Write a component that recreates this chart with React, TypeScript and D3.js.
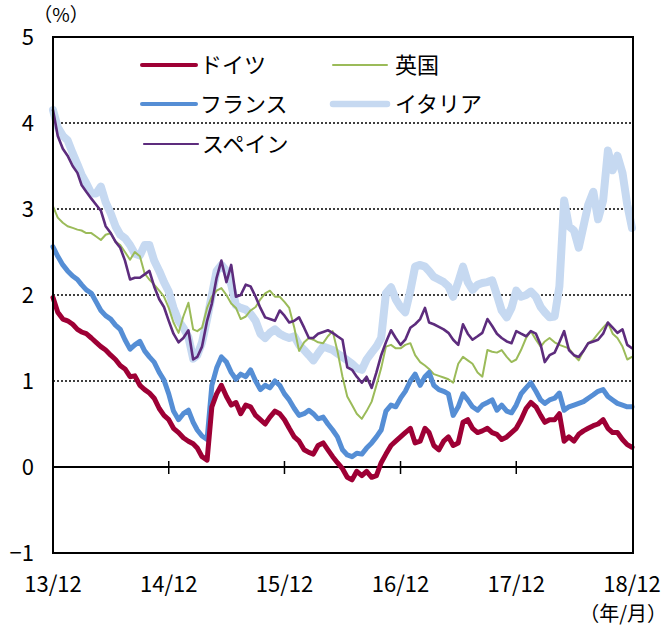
import React from "react";
import * as d3 from "d3";

// Half-month observations from 2013/12 to 2018/12 (121 points)
const startDate = new Date(2013, 11, 1);
const dates: Date[] = d3.range(121).map((i) => d3.timeDay.offset(d3.timeMonth.offset(startDate, Math.floor(i / 2)), (i % 2) * 15));

const germany = [
  1.97, 1.80, 1.72, 1.70, 1.66, 1.60, 1.57, 1.55, 1.50, 1.45,
  1.40, 1.36, 1.30, 1.25, 1.18, 1.14, 1.05, 1.06, 0.95, 0.90,
  0.86, 0.80, 0.68, 0.60, 0.55, 0.45, 0.40, 0.34, 0.30, 0.27,
  0.22, 0.12, 0.08, 0.70, 0.85, 0.95, 0.82, 0.72, 0.75, 0.62,
  0.72, 0.70, 0.60, 0.55, 0.50, 0.58, 0.65, 0.62, 0.55, 0.45,
  0.35, 0.30, 0.20, 0.17, 0.15, 0.25, 0.28, 0.20, 0.12, 0.05,
  -0.02, -0.12, -0.15, -0.05, -0.10, -0.05, -0.12, -0.10, 0.05, 0.15,
  0.25, 0.30, 0.35, 0.40, 0.45, 0.28, 0.30, 0.45, 0.40, 0.25,
  0.20, 0.30, 0.35, 0.25, 0.28, 0.52, 0.55, 0.45, 0.40, 0.42,
  0.45, 0.40, 0.38, 0.32, 0.35, 0.40, 0.45, 0.55, 0.68, 0.75,
  0.70, 0.60, 0.52, 0.55, 0.55, 0.62, 0.30, 0.35, 0.30, 0.38,
  0.42, 0.45, 0.48, 0.50, 0.55, 0.45, 0.40, 0.40, 0.32, 0.26,
  0.23,
];

const france = [
  2.56, 2.45, 2.35, 2.28, 2.22, 2.18, 2.12, 2.06, 2.02, 1.92,
  1.82, 1.76, 1.72, 1.65, 1.60, 1.48, 1.37, 1.42, 1.46, 1.35,
  1.28, 1.22, 1.10, 1.01, 0.85, 0.65, 0.55, 0.62, 0.66, 0.52,
  0.43, 0.36, 0.32, 0.95, 1.15, 1.28, 1.22, 1.10, 1.02, 1.08,
  1.05, 1.13, 1.00, 0.90, 0.95, 0.92, 1.00, 0.95, 0.85, 0.78,
  0.68, 0.60, 0.62, 0.66, 0.62, 0.56, 0.58, 0.50, 0.43, 0.35,
  0.20, 0.14, 0.12, 0.16, 0.15, 0.22, 0.28, 0.35, 0.43, 0.65,
  0.72, 0.70, 0.80, 0.88, 1.00, 1.08, 0.95, 1.05, 1.10, 0.95,
  0.90, 0.88, 0.85, 0.60, 0.70, 0.85, 0.78, 0.70, 0.66, 0.72,
  0.75, 0.78, 0.66, 0.72, 0.65, 0.63, 0.72, 0.85, 0.92, 0.98,
  0.88, 0.78, 0.74, 0.78, 0.80, 0.86, 0.66, 0.70, 0.72, 0.74,
  0.76, 0.80, 0.84, 0.88, 0.90, 0.82, 0.78, 0.74, 0.72, 0.70,
  0.70,
];

const uk = [
  3.03, 2.90, 2.84, 2.80, 2.78, 2.76, 2.75, 2.72, 2.72, 2.68,
  2.64, 2.70, 2.72, 2.62, 2.58, 2.50, 2.41, 2.50, 2.45, 2.25,
  2.18, 2.12, 2.05, 1.98, 1.85, 1.68, 1.56, 1.75, 1.91, 1.60,
  1.58, 1.62, 1.85, 1.98, 2.05, 2.08, 2.00, 1.90, 1.85, 1.72,
  1.75, 1.82, 1.86, 1.95, 2.02, 2.05, 1.98, 1.98, 1.92, 1.85,
  1.62, 1.35, 1.45, 1.50, 1.48, 1.45, 1.44, 1.52, 1.58, 1.35,
  1.05, 0.82, 0.72, 0.62, 0.56, 0.65, 0.76, 0.95, 1.15, 1.40,
  1.42, 1.38, 1.38, 1.42, 1.44, 1.30, 1.22, 1.18, 1.14, 1.08,
  1.06, 1.04, 1.02, 0.98, 1.20, 1.28, 1.24, 1.20, 1.10, 1.05,
  1.36, 1.34, 1.33, 1.36, 1.28, 1.22, 1.25, 1.36, 1.50, 1.58,
  1.48, 1.40, 1.46, 1.50, 1.45, 1.42, 1.40, 1.38, 1.30, 1.24,
  1.35, 1.44, 1.48, 1.55, 1.62, 1.68, 1.55, 1.50, 1.40, 1.25,
  1.28,
];

const spain = [
  4.15, 3.85, 3.70, 3.62, 3.50, 3.42, 3.28, 3.20, 3.12, 3.05,
  2.98, 2.80, 2.72, 2.62, 2.55, 2.40, 2.18, 2.20, 2.20, 2.24,
  2.28, 2.10, 1.95, 1.86, 1.70, 1.55, 1.45, 1.50, 1.59, 1.25,
  1.28, 1.40, 1.70, 1.90, 2.20, 2.40, 2.15, 2.35, 1.98, 2.00,
  2.12, 2.10, 1.98, 1.85, 1.74, 1.72, 1.70, 1.82, 1.76, 1.68,
  1.70, 1.74, 1.62, 1.50, 1.50, 1.55, 1.57, 1.59, 1.56, 1.52,
  1.48, 1.16, 1.13, 1.05, 0.98, 1.05, 0.92, 1.10, 1.30, 1.45,
  1.59, 1.50, 1.42, 1.48, 1.62, 1.66, 1.72, 1.85, 1.68, 1.66,
  1.63, 1.60, 1.56, 1.48, 1.42, 1.66, 1.55, 1.48, 1.52, 1.56,
  1.72, 1.64, 1.55, 1.50, 1.46, 1.44, 1.58, 1.55, 1.52, 1.58,
  1.55, 1.42, 1.22, 1.30, 1.33, 1.45, 1.58, 1.36, 1.30, 1.28,
  1.35, 1.44, 1.46, 1.48, 1.55, 1.68, 1.62, 1.56, 1.60, 1.42,
  1.38,
];

const italy = [
  4.15, 3.95, 3.85, 3.80, 3.65, 3.52, 3.40, 3.30, 3.18, 3.18,
  3.26, 3.08, 2.95, 2.80, 2.70, 2.66, 2.58, 2.48, 2.46, 2.58,
  2.58, 2.40, 2.28, 2.15, 2.04, 1.85, 1.70, 1.62, 1.51, 1.26,
  1.30, 1.45, 1.72, 2.00, 2.28, 2.35, 2.28, 2.12, 1.88, 1.85,
  1.83, 1.78, 1.70, 1.55, 1.50, 1.56, 1.60, 1.55, 1.52, 1.50,
  1.52, 1.42, 1.36, 1.30, 1.24, 1.32, 1.40, 1.38, 1.36, 1.32,
  1.28, 1.24, 1.20, 1.15, 1.13, 1.25, 1.33, 1.40, 1.50, 2.02,
  2.09, 1.95, 1.86, 1.80, 2.05, 2.33, 2.35, 2.33, 2.28, 2.21,
  2.18, 2.15, 2.10, 1.98, 2.15, 2.33, 2.15, 2.06, 2.12, 2.14,
  2.15, 2.17, 2.00, 1.82, 1.74, 1.85, 2.05, 1.98, 2.00, 2.04,
  1.98, 1.86, 1.80, 1.74, 1.75, 2.10, 3.10, 2.80, 2.75, 2.55,
  2.80, 3.05, 3.20, 2.88, 3.10, 3.68, 3.45, 3.62, 3.42, 3.05,
  2.78,
];

const yTicks = [-1, 0, 1, 2, 3, 4, 5];
const gridValues = [1, 2, 3, 4];
const xTickYears = [2013, 2014, 2015, 2016, 2017, 2018];

const seriesNames = ["ドイツ", "英国", "フランス", "イタリア", "スペイン"];
const seriesColors = ["#9e0035", "#9bbb59", "#558ed5", "#c6d9f1", "#5d2c7d"];
const seriesWidths = [5, 2, 5, 8, 2.6];
const legendWidths = [4, 2, 4, 6.5, 2.2];
const seriesData = [germany, uk, france, italy, spain];
// draw order: italy, uk, spain, france, germany
const drawOrder = [3, 1, 4, 2, 0];

const W = 670;
const H = 628;
const left = 53;
const right = 633;
const top = 37;
const bottom = 553;
const FONT = "'Noto Sans CJK JP', 'Noto Sans', sans-serif";

export default function App() {
  const x = d3.scaleTime().domain([new Date(2013, 11, 1), new Date(2018, 11, 1)]).range([left, right - 1]);
  const y = d3.scaleLinear().domain([-1, 5]).range([bottom, top]);
  const fmt = d3.timeFormat("%y/%m");
  const xTicks = xTickYears.map((yr) => new Date(yr, 11, 1));

  const lineFor = (vals: number[]) =>
    d3
      .line<number>()
      .x((_, i) => x(dates[i]))
      .y((v) => y(v))(vals) || "";

  const legend = [
    { i: 0, lx: 142, ly: 65 },
    { i: 1, lx: 333, ly: 65 },
    { i: 2, lx: 142, ly: 104 },
    { i: 3, lx: 333, ly: 104 },
    { i: 4, lx: 144, ly: 144 },
  ];

  return (
    <svg
      width={W}
      height={H}
      style={{ position: "absolute", left: 0, top: 0, background: "#fff" }}
      fontFamily={FONT}
    >
      <rect x={0} y={0} width={W} height={H} fill="#fff" />
      {gridValues.map((g) => (
        <line
          key={g}
          x1={left}
          x2={right}
          y1={y(g)}
          y2={y(g)}
          stroke="#000"
          strokeWidth={1.6}
          strokeDasharray="2,2"
        />
      ))}
      <line x1={left} x2={right} y1={y(0)} y2={y(0)} stroke="#000" strokeWidth={2} />
      {xTicks.slice(1, -1).map((d, k) => (
        <line key={k} x1={x(d)} x2={x(d)} y1={y(0) - 6} y2={y(0) + 7} stroke="#000" strokeWidth={1.5} />
      ))}
      {drawOrder.map((si) => (
        <path
          key={si}
          d={lineFor(seriesData[si])}
          fill="none"
          stroke={seriesColors[si]}
          strokeWidth={seriesWidths[si]}
          strokeLinejoin="round"
          strokeLinecap="round"
        />
      ))}
      <rect x={left} y={top} width={right - left} height={bottom - top} fill="none" stroke="#000" strokeWidth={2} />
      {yTicks.map((v) => (
        <text key={v} x={34} y={y(v) + 8} textAnchor="end" fontSize={22} fill="#000">
          {v < 0 ? "−" + Math.abs(v) : v}
        </text>
      ))}
      <text x={61} y={22} textAnchor="middle" fontSize={19} fill="#000">
        （%）
      </text>
      {xTicks.map((d, k) => (
        <text key={k} x={x(d)} y={592} textAnchor="middle" fontSize={22} fill="#000">
          {fmt(d)}
        </text>
      ))}
      <text x={667} y={621} textAnchor="end" fontSize={20} fill="#000">
        （年/月）
      </text>
      {legend.map(({ i, lx, ly }) => (
        <g key={i}>
          <line
            x1={lx}
            x2={lx + 54}
            y1={ly}
            y2={ly}
            stroke={seriesColors[i]}
            strokeWidth={legendWidths[i]}
            strokeLinecap="round"
          />
          <text x={lx + 58 + (i === 1 || i === 3 ? 4 : 0)} y={ly + 8} fontSize={22} fill="#000">
            {seriesNames[i]}
          </text>
        </g>
      ))}
    </svg>
  );
}
